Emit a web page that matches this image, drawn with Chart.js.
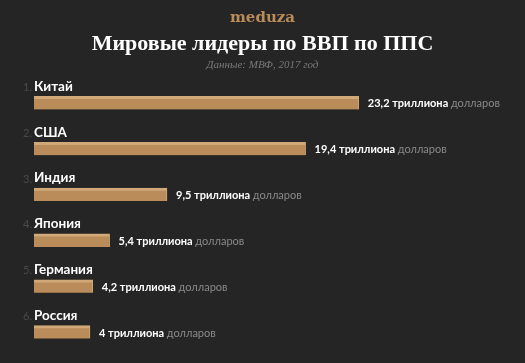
<!DOCTYPE html>
<html lang="ru">
<head>
<meta charset="utf-8" />
<title>Мировые лидеры по ВВП по ППС</title>
<style>
    html, body { margin: 0; padding: 0; background: #252525; }
    .wrap { width: 525px; height: 363px; position: relative; }
</style>
</head>
<body>
<div class="wrap"><canvas id="mychart"></canvas></div>
<script src="https://cdn.jsdelivr.net/npm/chart.js@4.4.0/dist/chart.umd.min.js"></script>
<script>
    // данные
    const countries = ['Китай', 'США', 'Индия', 'Япония', 'Германия', 'Россия'];
    const gdp = [23.2, 19.4, 9.5, 5.4, 4.2, 4];
    const valueLabels = ['23,2 триллиона', '19,4 триллиона', '9,5 триллиона', '5,4 триллиона', '4,2 триллиона', '4 триллиона'];
    const unit = 'долларов';

    const sans = 'Lato, "Open Sans", sans-serif';
    const serif = '"Liberation Serif", "DejaVu Serif", serif';

    // шапка + подписи
    const labelsPlugin = {
        id: 'labels',
        afterDatasetsDraw(chart) {
            const ctx = chart.ctx;
            const w = chart.width;
            ctx.save();
            ctx.textBaseline = 'middle';
            ctx.textAlign = 'center';
            ctx.fillStyle = '#b98c5a';
            ctx.font = 'bold 15px "DejaVu Serif", serif';
            ctx.fillText('meduza', w / 2, 18);
            ctx.fillStyle = '#ffffff';
            ctx.font = 'bold 22px ' + serif;
            ctx.fillText('Мировые лидеры по ВВП по ППС', w / 2, 44);
            ctx.fillStyle = '#7a7a7a';
            ctx.font = 'italic 11px ' + serif;
            ctx.fillText('Данные: МВФ, 2017 год', w / 2, 65);

            const meta = chart.getDatasetMeta(0);
            meta.data.forEach((bar, i) => {
                const top = bar.y - bar.height / 2;
                // название страны
                ctx.textAlign = 'left';
                ctx.font = 'bold 13.5px ' + sans;
                ctx.fillStyle = '#ffffff';
                ctx.fillText(countries[i], 34, top - 10);
                ctx.textAlign = 'right';
                ctx.font = '11px ' + sans;
                ctx.fillStyle = '#4a4a4a';
                ctx.fillText((i + 1) + '.', 32, top - 9);
                // значение
                ctx.textAlign = 'left';
                let x = bar.x + 9;
                ctx.font = 'bold 11px ' + sans;
                ctx.fillStyle = '#ffffff';
                ctx.fillText(valueLabels[i], x, bar.y + 1);
                x += ctx.measureText(valueLabels[i] + ' ').width;
                ctx.font = '11px ' + sans;
                ctx.fillStyle = '#8a8a8a';
                ctx.fillText(unit, x, bar.y + 1);
            });
            ctx.restore();
        }
    };

    new Chart(document.getElementById('mychart'), {
        type: 'bar',
        data: {
            labels: countries,
            datasets: [{
                data: gdp,
                backgroundColor: '#b98c5a',
                borderColor: '#d1a878',
                borderWidth: { top: 3, right: 1, bottom: 0, left: 0 },
                borderSkipped: false,
                barThickness: 13
            }]
        },
        options: {
            indexAxis: 'y',
            responsive: true,
            maintainAspectRatio: false,
            animation: false,
            layout: { padding: { left: 34, right: 1, top: 80, bottom: 8 } },
            scales: {
                x: { display: false, min: 0, max: 35 },
                y: { display: false }
            },
            plugins: {
                legend: { display: false },
                tooltip: { enabled: false }
            }
        },
        plugins: [labelsPlugin]
    });
</script>
</body>
</html>
